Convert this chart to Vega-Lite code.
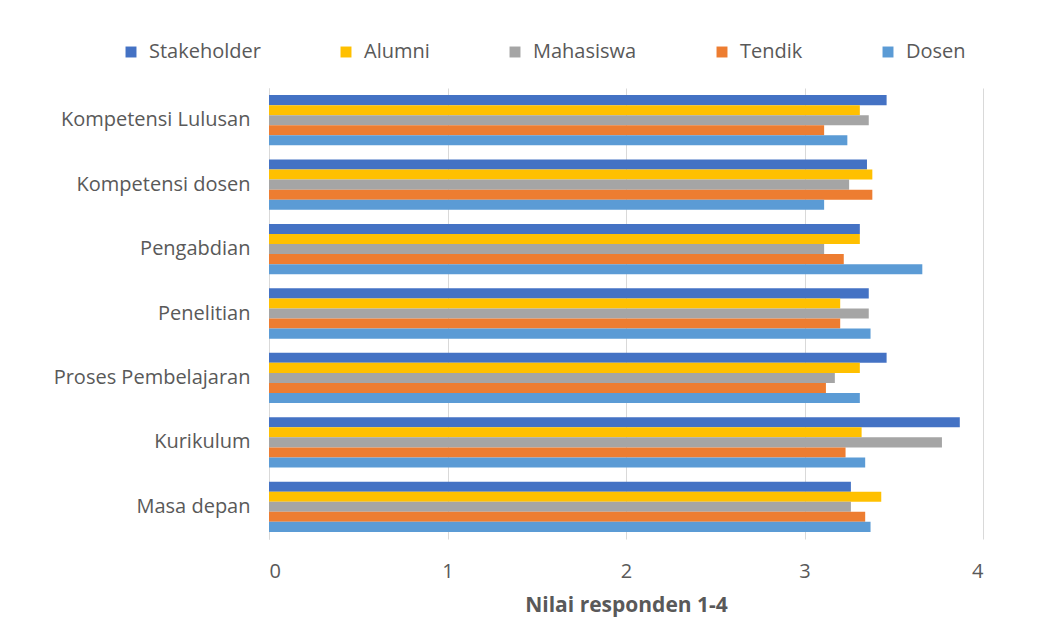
{
  "$schema": "https://vega.github.io/schema/vega-lite/v6.json",
  "autosize": {"type": "none"},
  "width": 714,
  "height": 451,
  "padding": {"left": 269, "top": 88, "right": 55, "bottom": 96},
  "background": "white",
  "config": {
    "view": {"stroke": null},
    "font": "Open Sans",
    "axis": {"labelColor": "#595959", "titleColor": "#595959", "labelFont": "Open Sans", "titleFont": "Open Sans"},
    "legend": {"labelColor": "#595959", "labelFont": "Open Sans"}
  },
  "data": {
    "values": [
      {"kategori": "Kompetensi Lulusan", "responden": "Stakeholder", "nilai": 3.46},
      {"kategori": "Kompetensi Lulusan", "responden": "Alumni", "nilai": 3.31},
      {"kategori": "Kompetensi Lulusan", "responden": "Mahasiswa", "nilai": 3.36},
      {"kategori": "Kompetensi Lulusan", "responden": "Tendik", "nilai": 3.11},
      {"kategori": "Kompetensi Lulusan", "responden": "Dosen", "nilai": 3.24},
      {"kategori": "Kompetensi dosen", "responden": "Stakeholder", "nilai": 3.35},
      {"kategori": "Kompetensi dosen", "responden": "Alumni", "nilai": 3.38},
      {"kategori": "Kompetensi dosen", "responden": "Mahasiswa", "nilai": 3.25},
      {"kategori": "Kompetensi dosen", "responden": "Tendik", "nilai": 3.38},
      {"kategori": "Kompetensi dosen", "responden": "Dosen", "nilai": 3.11},
      {"kategori": "Pengabdian", "responden": "Stakeholder", "nilai": 3.31},
      {"kategori": "Pengabdian", "responden": "Alumni", "nilai": 3.31},
      {"kategori": "Pengabdian", "responden": "Mahasiswa", "nilai": 3.11},
      {"kategori": "Pengabdian", "responden": "Tendik", "nilai": 3.22},
      {"kategori": "Pengabdian", "responden": "Dosen", "nilai": 3.66},
      {"kategori": "Penelitian", "responden": "Stakeholder", "nilai": 3.36},
      {"kategori": "Penelitian", "responden": "Alumni", "nilai": 3.2},
      {"kategori": "Penelitian", "responden": "Mahasiswa", "nilai": 3.36},
      {"kategori": "Penelitian", "responden": "Tendik", "nilai": 3.2},
      {"kategori": "Penelitian", "responden": "Dosen", "nilai": 3.37},
      {"kategori": "Proses Pembelajaran", "responden": "Stakeholder", "nilai": 3.46},
      {"kategori": "Proses Pembelajaran", "responden": "Alumni", "nilai": 3.31},
      {"kategori": "Proses Pembelajaran", "responden": "Mahasiswa", "nilai": 3.17},
      {"kategori": "Proses Pembelajaran", "responden": "Tendik", "nilai": 3.12},
      {"kategori": "Proses Pembelajaran", "responden": "Dosen", "nilai": 3.31},
      {"kategori": "Kurikulum", "responden": "Stakeholder", "nilai": 3.87},
      {"kategori": "Kurikulum", "responden": "Alumni", "nilai": 3.32},
      {"kategori": "Kurikulum", "responden": "Mahasiswa", "nilai": 3.77},
      {"kategori": "Kurikulum", "responden": "Tendik", "nilai": 3.23},
      {"kategori": "Kurikulum", "responden": "Dosen", "nilai": 3.34},
      {"kategori": "Masa depan", "responden": "Stakeholder", "nilai": 3.26},
      {"kategori": "Masa depan", "responden": "Alumni", "nilai": 3.43},
      {"kategori": "Masa depan", "responden": "Mahasiswa", "nilai": 3.26},
      {"kategori": "Masa depan", "responden": "Tendik", "nilai": 3.34},
      {"kategori": "Masa depan", "responden": "Dosen", "nilai": 3.37}
    ]
  },
  "mark": {"type": "bar"},
  "encoding": {
    "y": {
      "field": "kategori",
      "type": "nominal",
      "sort": ["Kompetensi Lulusan", "Kompetensi dosen", "Pengabdian", "Penelitian", "Proses Pembelajaran", "Kurikulum", "Masa depan"],
      "scale": {"paddingInner": 0.22, "paddingOuter": 0.11},
      "axis": {"title": null, "ticks": false, "domainColor": "#D9D9D9", "labelFontSize": 20, "labelPadding": 19, "labelLimit": 400}
    },
    "yOffset": {
      "field": "responden",
      "type": "nominal",
      "sort": ["Stakeholder", "Alumni", "Mahasiswa", "Tendik", "Dosen"]
    },
    "x": {
      "field": "nilai",
      "type": "quantitative",
      "scale": {"domain": [0, 4], "nice": false},
      "axis": {
        "title": "Nilai responden 1-4",
        "titleFontSize": 21,
        "titleFontWeight": "bold",
        "titlePadding": 13,
        "values": [0, 1, 2, 3, 4],
        "format": "d",
        "labelFontSize": 20,
        "labelPadding": 22,
        "ticks": false,
        "domain": false,
        "gridColor": "#D9D9D9"
      }
    },
    "color": {
      "field": "responden",
      "type": "nominal",
      "sort": ["Stakeholder", "Alumni", "Mahasiswa", "Tendik", "Dosen"],
      "scale": {
        "domain": ["Stakeholder", "Alumni", "Mahasiswa", "Tendik", "Dosen"],
        "range": ["#4472C4", "#FFC000", "#A5A5A5", "#ED7D31", "#5B9BD5"]
      },
      "legend": {
        "title": null,
        "orient": "none",
        "direction": "horizontal",
        "legendX": -148,
        "legendY": -46,
        "symbolType": "square",
        "symbolSize": 120,
        "symbolStrokeWidth": 0,
        "labelFontSize": 20,
        "labelOffset": 8,
        "labelLimit": 300,
        "columnPadding": 75
      }
    }
  }
}
